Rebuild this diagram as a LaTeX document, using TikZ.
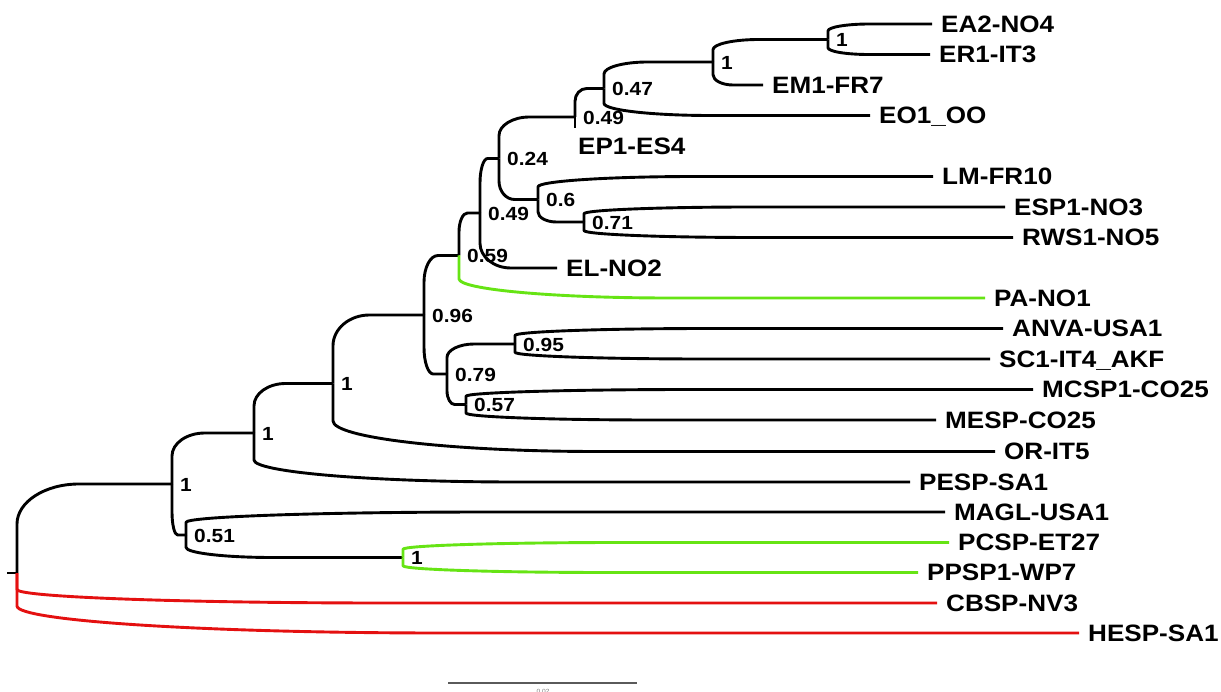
\documentclass[tikz,border=0pt]{standalone}
\usepackage{fontspec}
\usetikzlibrary{calc}
\newfontfamily\labfont{Liberation Sans}[FakeStretch=1.1]
\definecolor{brgreen}{RGB}{102,228,20}
\definecolor{brred}{RGB}{228,16,16}
\definecolor{scalegray}{RGB}{90,90,90}
\tikzset{
  br/.style={line width=2.9pt, line cap=butt, line join=round, to path={
    let \p1=(\tikztostart), \p2=(\tikztotarget),
        \n1={0.45*(\y2-\y1)}, \n2={0.4*(\x2-\x1)}
    in (\p1) -- (\x1,{\y2-\n1}) .. controls (\x1,{\y2-0.448*\n1}) and ({\x1+0.448*\n2},\y2) .. ({\x1+\n2},\y2) -- (\p2)}},
  leaflab/.style={anchor=base west, inner sep=0pt, xshift=9pt, yshift=-8.4pt,
    font=\fontsize{23.7}{26}\selectfont\labfont\bfseries},
  bs/.style={anchor=base west, inner sep=0pt, xshift=8pt, yshift=-7.4pt,
    font=\fontsize{19}{21}\selectfont\labfont\bfseries},
}
\begin{document}
\begin{tikzpicture}[x=1pt,y=-1pt]
\fill[white] (0,0) rectangle (1221,692);
\useasboundingbox (0,0) rectangle (1221,692);
% leaves (branch end points)
\coordinate (EA2) at (932,24);
\coordinate (ER1) at (930,54.5);
\coordinate (EM1) at (763,85);
\coordinate (EO1) at (870,115.5);
\coordinate (EP1) at (569,146);
\coordinate (EP1end) at (575,128);
\coordinate (LM) at (933,176.5);
\coordinate (ESP1) at (1005,207);
\coordinate (RWS1) at (1013,237.5);
\coordinate (EL) at (557,268);
\coordinate (PA) at (985,298);
\coordinate (ANVA) at (1003,328.5);
\coordinate (SC1) at (990,359);
\coordinate (MCSP1) at (1033,389.5);
\coordinate (MESP) at (936,420);
\coordinate (OR) at (995,451.5);
\coordinate (PESP) at (910,482);
\coordinate (MAGL) at (945,512);
\coordinate (PCSP) at (949,542.5);
\coordinate (PPSP) at (918,572.5);
\coordinate (CBSP) at (937,603);
\coordinate (HESP) at (1079,633);
% internal nodes
\coordinate (nA) at (828,39.5);
\coordinate (nB) at (713,62);
\coordinate (nC) at (604,88.5);
\coordinate (n049) at (575,117);
\coordinate (n071) at (584,222);
\coordinate (n06) at (538,199.5);
\coordinate (nD) at (499,158.5);
\coordinate (nE) at (480,213);
\coordinate (nF) at (459,255.5);
\coordinate (n095) at (515,344);
\coordinate (n057) at (466,404.5);
\coordinate (nH) at (447,374);
\coordinate (nG) at (424,315);
\coordinate (nI) at (333,383.5);
\coordinate (nJ) at (254,433);
\coordinate (n1g) at (403,557.5);
\coordinate (n051) at (186,535);
\coordinate (nK) at (172,484);
\coordinate (root) at (17,573);
\coordinate (rootstub) at (7,573);
% black branches
\draw[line width=2.9pt] (rootstub) -- (root);
\draw[br] (root) to (nK);
\draw[br] (nK) to (nJ);
\draw[br] (nK) to (n051);
\draw[br] (n051) to (MAGL);
\draw[br] (n051) to (n1g);
\draw[br] (nJ) to (nI);
\draw[br] (nJ) to (PESP);
\draw[br] (nI) to (nG);
\draw[br] (nI) to (OR);
\draw[br] (nG) to (nF);
\draw[br] (nG) to (nH);
\draw[br] (nH) to (n095);
\draw[br] (nH) to (n057);
\draw[br] (n095) to (ANVA);
\draw[br] (n095) to (SC1);
\draw[br] (n057) to (MCSP1);
\draw[br] (n057) to (MESP);
\draw[br] (nF) to (nE);
\draw[br] (nE) to (nD);
\draw[br] (nE) to (EL);
\draw[br] (nD) to (n049);
\draw[br] (nD) to (n06);
\draw[br] (n06) to (LM);
\draw[br] (n06) to (n071);
\draw[br] (n071) to (ESP1);
\draw[br] (n071) to (RWS1);
\draw[br] (n049) to (nC);
\draw[line width=2.9pt] (n049) -- (EP1end);
\draw[br] (nC) to (nB);
\draw[br] (nC) to (EO1);
\draw[br] (nB) to (nA);
\draw[br] (nB) to (EM1);
\draw[br] (nA) to (EA2);
\draw[br] (nA) to (ER1);
% coloured branches
\draw[br, brgreen] (nF) to (PA);
\draw[br, brgreen] (n1g) to (PCSP);
\draw[br, brgreen] (n1g) to (PPSP);
\draw[br, brred] (root) to (CBSP);
\draw[br, brred] (root) to (HESP);
% leaf labels
\node[leaflab] (tEA2) at (EA2) {EA2-NO4};
\node[leaflab] (tER1) at (ER1) {ER1-IT3};
\node[leaflab] (tEM1) at (EM1) {EM1-FR7};
\node[leaflab] (tEO1) at (EO1) {EO1\_OO};
\node[leaflab] (tEP1) at (EP1) {EP1-ES4};
\node[leaflab] (tLM) at (LM) {LM-FR10};
\node[leaflab] (tESP1) at (ESP1) {ESP1-NO3};
\node[leaflab] (tRWS1) at (RWS1) {RWS1-NO5};
\node[leaflab] (tEL) at (EL) {EL-NO2};
\node[leaflab] (tPA) at (PA) {PA-NO1};
\node[leaflab] (tANVA) at (ANVA) {ANVA-USA1};
\node[leaflab] (tSC1) at (SC1) {SC1-IT4\_AKF};
\node[leaflab] (tMCSP1) at (MCSP1) {MCSP1-CO25};
\node[leaflab] (tMESP) at (MESP) {MESP-CO25};
\node[leaflab] (tOR) at (OR) {OR-IT5};
\node[leaflab] (tPESP) at (PESP) {PESP-SA1};
\node[leaflab] (tMAGL) at (MAGL) {MAGL-USA1};
\node[leaflab] (tPCSP) at (PCSP) {PCSP-ET27};
\node[leaflab] (tPPSP) at (PPSP) {PPSP1-WP7};
\node[leaflab] (tCBSP) at (CBSP) {CBSP-NV3};
\node[leaflab] (tHESP) at (HESP) {HESP-SA1};
% support values
\node[bs] (bA) at (nA) {1};
\node[bs] (bB) at (nB) {1};
\node[bs] (bC) at (nC) {0.47};
\node[bs] (b049) at (n049) {0.49};
\node[bs] (bD) at (nD) {0.24};
\node[bs] (b06) at (n06) {0.6};
\node[bs] (b071) at (n071) {0.71};
\node[bs] (bE) at (nE) {0.49};
\node[bs] (bF) at (nF) {0.59};
\node[bs] (bG) at (nG) {0.96};
\node[bs] (b095) at (n095) {0.95};
\node[bs] (bH) at (nH) {0.79};
\node[bs] (b057) at (n057) {0.57};
\node[bs] (bI) at (nI) {1};
\node[bs] (bJ) at (nJ) {1};
\node[bs] (bK) at (nK) {1};
\node[bs] (b051) at (n051) {0.51};
\node[bs] (b1g) at (n1g) {1};
% scale bar
\coordinate (sbL) at (448,683);
\coordinate (sbR) at (637,683);
\draw[scalegray, line width=1.2pt] (sbL) -- (sbR);
\node[font=\fontsize{6}{7}\selectfont\labfont, text=gray, inner sep=0pt] (sbt) at (543,691) {0.02};
\end{tikzpicture}
\end{document}
